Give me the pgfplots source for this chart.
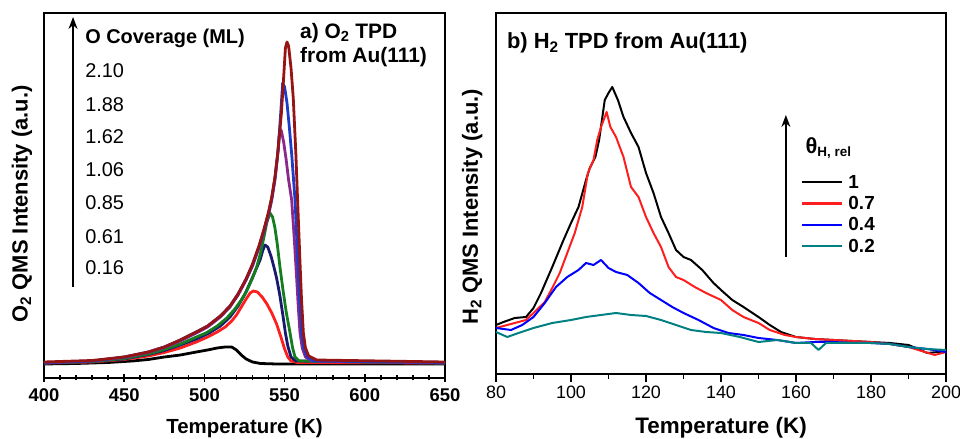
\documentclass[border=0pt]{standalone}
\usepackage{fontspec}
\setmainfont{Liberation Sans}
\usepackage{pgfplots}
\pgfplotsset{compat=1.18}
\usetikzlibrary{arrows.meta}
\newcommand\fs[1]{\fontsize{#1}{#1}\selectfont}
\definecolor{cDarkred}{RGB}{150,20,20}
\definecolor{cBlue}{RGB}{30,60,200}
\definecolor{cPurple}{RGB}{140,40,140}
\definecolor{cGreen}{RGB}{20,125,30}
\definecolor{cNavy}{RGB}{25,25,110}
\definecolor{cRed}{RGB}{255,30,30}
\definecolor{cTeal}{RGB}{0,128,128}
\definecolor{cBlueB}{RGB}{0,0,255}
\begin{document}
\begin{tikzpicture}[x=1bp,y=1bp]
\useasboundingbox (0,0) rectangle (960,439);
% ---------------- left panel ----------------
\begin{axis}[
  at={(44bp,61bp)}, anchor=south west,
  width=401bp, height=365bp, scale only axis,
  xmin=400, xmax=650, ymin=0, ymax=365,
  ytick=\empty,
  xtick={400,450,...,650}, minor x tick num=4,
  xtick pos=lower, tick align=center,
  major tick length=8bp, minor tick length=5bp,
  every tick/.style={line width=1.6pt, black},
  axis line style={line width=1.6pt},
  /pgf/number format/assume math mode=true,
  /pgf/number format/1000 sep={},
  ticklabel style={font=\bfseries\fs{18.5}},
  xticklabel style={yshift=-3bp},
  xlabel={\bfseries Temperature (K)},
  xlabel style={font=\fs{20.5}, at={(axis description cs:0.5,0)}, anchor=center, yshift=-50bp},
  ylabel={\bfseries O\textsubscript{2} QMS Intensity (a.u.)},
  ylabel style={font=\fs{22}, at={(axis description cs:-0.055,0.477)}, anchor=center},
  every axis plot/.append style={line width=2.8pt, line join=round},
  clip=false,
]
\addplot[black] coordinates {(400,14)(420,14.5)(440,15.5)(455,17)(465,18.5)(475,21)(485,23)(495,26)(502,28)(508,30)(513,31)(517,31)(520,28)(523,23)(526,19)(530,16)(535,14.5)(545,14)(650,14)};
\addplot[cRed] coordinates {(400,15)(430,16)(450,18.5)(465,22)(475,25.5)(485,30)(495,36)(502,41)(508,46)(513,51)(517,57)(520,63)(523,71)(526,79)(528.5,85)(530.5,87)(533,86)(536,81)(539,74)(542,65)(545,54)(547.5,42)(550,29)(552,21)(554,17)(558,15.5)(650,15)};
\addplot[cNavy] coordinates {(400,15)(430,16.5)(450,19)(465,23.5)(475,27.5)(485,33)(495,39)(503,45)(510,52)(516,61)(521,72)(525,83)(529,97)(532,108)(534.7,118)(536.5,128)(537.8,133)(539.5,131)(541.5,122)(543.5,110)(545,100)(547,83)(549,62)(550.5,45)(552,32)(554,21)(557,17)(650,15)};
\addplot[cGreen] coordinates {(400,15)(430,16.5)(450,19.5)(465,24)(475,28.5)(485,34)(495,41)(501,45)(508,52)(514,60)(519,69)(523,78)(526.4,87)(530,100)(532.6,111)(535,125)(537,140)(539,156)(540.9,165)(542.5,161)(544,150)(545.5,133)(547.1,111)(549,88)(551,66)(553.4,45)(555,30)(556.5,21)(559,17)(650,15)};
\addplot[cPurple] coordinates {(400,15)(430,17)(450,20.5)(465,25.5)(475,30.5)(485,37)(495,45)(502,51)(510,61)(516,71)(521,83)(526,98)(530,112)(534,130)(537,146)(540,163)(542,178)(544,198)(545.5,220)(546.5,240)(547.1,249)(548,247)(549.5,235)(551,218)(552.5,198)(554.4,178)(556,140)(557.5,100)(558.5,72)(559.6,45)(561,30)(563,21)(567,17)(650,15)};
\addplot[cBlue] coordinates {(400,15.5)(430,17)(450,21)(465,26)(475,31)(485,38)(495,46)(502,52)(510,62)(516,72)(521,84)(526,99)(530,113)(534,131)(537,147)(540,165)(542,180)(544,200)(546,228)(547.5,263)(548.8,295)(550,291)(551.5,275)(553,250)(554.5,222)(556.5,178)(558,125)(559,88)(560.6,45)(562,30)(564,21)(568,17)(650,15.5)};
\addplot[cDarkred] coordinates {(400,16)(430,17.5)(450,21)(465,26)(475,31)(485,38)(495,46)(502,52)(510,62)(516,72)(521,84)(526,99)(530,114)(534,132)(537,148)(540,166)(542,181)(544,201)(546,229)(548,265)(549.5,303)(550.5,330)(551.5,336)(552.5,332)(554,310)(555.4,280)(557,225)(558.1,178)(559.5,120)(560.5,80)(561.7,45)(563,30)(565,22)(570,18)(650,16)};
\draw[-{Stealth[length=12bp,width=9bp]}, line width=1.7pt] (axis cs:418.1,91) -- (axis cs:418.1,361);
\node[anchor=west, font=\bfseries\fs{20}, inner sep=0] at (axis cs:425.6,340) {O Coverage (ML)};
\begin{scope}[every node/.style={anchor=west, font=\fs{20}, inner sep=0}]
\node at (axis cs:425.6,307) {2.10};
\node at (axis cs:425.6,273) {1.88};
\node at (axis cs:425.6,241) {1.62};
\node at (axis cs:425.6,208) {1.06};
\node at (axis cs:425.6,175) {0.85};
\node at (axis cs:425.6,141) {0.61};
\node at (axis cs:425.6,110) {0.16};
\end{scope}
\node[anchor=west, font=\bfseries\fs{21}, inner sep=0] at (axis cs:559.6,345) {a) O\textsubscript{2} TPD};
\node[anchor=west, font=\bfseries\fs{21}, inner sep=0] at (axis cs:559.6,321) {from Au(111)};
\end{axis}
% ---------------- right panel ----------------
\begin{axis}[
  at={(496bp,65bp)}, anchor=south west,
  width=450bp, height=361bp, scale only axis,
  xmin=80, xmax=200, ymin=0, ymax=361,
  ytick=\empty,
  xtick={80,100,...,200}, minor x tick num=1,
  xtick pos=lower, tick align=outside,
  major tick length=8bp, minor tick length=5bp,
  every tick/.style={line width=1.6pt, black},
  axis line style={line width=1.6pt},
  /pgf/number format/assume math mode=true,
  ticklabel style={font=\fs{18}},
  xlabel={\bfseries Temperature (K)},
  xlabel style={font=\fs{22.5}, at={(axis description cs:0.5,0)}, anchor=center, yshift=-54bp},
  ylabel={\bfseries H\textsubscript{2} QMS Intensity (a.u.)},
  ylabel style={font=\fs{22}, at={(axis description cs:-0.053,0.463)}, anchor=center},
  every axis plot/.append style={line width=2pt, line join=round},
  legend style={at={(axis cs:160.5,200)}, anchor=north west, draw=none, fill=none,
    font=\bfseries\fs{19}, row sep=9.3bp,
    nodes={inner xsep=5bp, inner ysep=0pt, text height=12bp, text depth=0bp}},
  legend cell align=left,
  legend image code/.code={\draw[#1, line width=2.4pt] (0bp,0bp) -- (40bp,0bp);},
  clip=false,
]
\addplot[black] coordinates {(80,49)(82,52)(85,56)(88,57)(90,66)(92,81)(95,107)(98,134)(100,151)(102,167)(104,194)(105,206)(106.5,217)(107.5,234)(109,274)(110,281)(111,287)(112.5,274)(114,257)(116,241)(118,227)(120,201)(122,181)(124,157)(126,141)(128,124)(130,117)(132,114)(135,104)(138,91)(140,84)(143,74)(146,67)(150,57)(153,49)(156,42)(160,37)(165,35)(170,34)(175,33)(180,32)(185,31)(190,29)(195,21)(198,22)(200,22)};
\addlegendentry{1}
\addplot[cRed] coordinates {(80,46)(85,51)(88,54)(90,61)(93,72)(95,86)(97,101)(99,121)(101,141)(103,167)(104.5,201)(106,214)(107,234)(108,247)(109.5,262)(110.5,247)(112,237)(114,217)(116,187)(118,177)(120,157)(122,141)(124,127)(126,107)(128,97)(130,94)(133,87)(136,81)(140,74)(143,64)(146,57)(150,51)(153,44)(157,39)(160,37)(165,35)(170,34)(175,33)(180,32)(185,30)(190,27)(197,19)(200,22)};
\addlegendentry{0.7}
\addplot[cBlueB] coordinates {(80,46)(84,44)(87,49)(90,57)(93,71)(96,87)(99,97)(102,104)(104,111)(106,109)(108,114)(110,106)(112,102)(115,99)(118,91)(121,81)(124,74)(127,67)(130,61)(134,54)(138,46)(142,41)(146,39)(150,36)(155,34)(160,31)(165,32)(170,32)(175,31)(180,31)(185,30)(190,27)(195,25)(200,22)};
\addlegendentry{0.4}
\addplot[cTeal] coordinates {(80,42)(83,37)(86,41)(90,46)(95,51)(100,54)(104,57)(108,59)(112,61)(116,59)(120,58)(124,54)(128,49)(132,44)(136,42)(140,41)(145,37)(150,32)(155,34)(160,31)(164,31)(166,24)(168,31)(170,31)(175,31)(180,31)(185,30)(190,27)(195,25)(200,24)};
\addlegendentry{0.2}
\draw[-{Stealth[length=12bp,width=9bp]}, line width=1.7pt] (axis cs:157.3,117) -- (axis cs:157.3,259);
\node[anchor=west, font=\bfseries\fs{22}, inner sep=0] at (axis cs:162.5,226) {θ\textsubscript{\fs{13.5}H, rel}};
\node[anchor=west, font=\bfseries\fs{22}, inner sep=0] at (axis cs:82.9,331) {b) H\textsubscript{2} TPD from Au(111)};
\end{axis}
\end{tikzpicture}
\end{document}
